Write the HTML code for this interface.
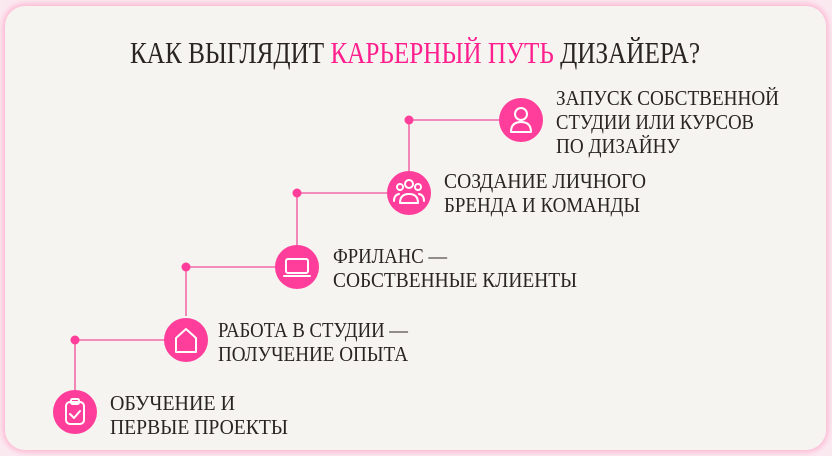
<!DOCTYPE html>
<html><head><meta charset="utf-8"><style>
html,body{margin:0;padding:0;background:#fbe9f0;}
body{width:832px;height:456px;overflow:hidden;position:relative;}
.card{position:absolute;left:5px;top:6px;width:821px;height:444px;border-radius:20px;background:#f5f4f0;box-shadow:0 0 6px 2px #ffb3d1;}
svg{position:absolute;left:0;top:0;}
text{font-family:"Liberation Serif",serif;fill:#2a2422;}
</style></head><body>
<div class="card"></div>
<svg width="832" height="456" viewBox="0 0 832 456">
<text x="130" y="63" font-size="31" textLength="570" lengthAdjust="spacingAndGlyphs">КАК ВЫГЛЯДИТ <tspan fill="#ff1f8e">КАРЬЕРНЫЙ ПУТЬ</tspan> ДИЗАЙЕРА?</text>
<g stroke="#f26aa8" stroke-width="1.6" fill="none">
<polyline points="75,390 75,340 164,340"/>
<polyline points="186,316 186,267 275,267"/>
<polyline points="297,245 297,193 387,193"/>
<polyline points="409,171 409,120 499,120"/>
</g>
<g fill="#ff3d9a">
<circle cx="75" cy="340" r="4.5"/><circle cx="186" cy="267" r="4.5"/><circle cx="297" cy="193" r="4.5"/><circle cx="409" cy="120" r="4.5"/>
<circle cx="75" cy="412" r="22"/><circle cx="186" cy="340" r="22"/><circle cx="297" cy="267" r="22"/><circle cx="409" cy="193" r="22"/><circle cx="521" cy="120" r="22"/>
</g>
<g stroke="#fff" stroke-width="2" fill="none" stroke-linecap="round" stroke-linejoin="round">
<rect x="66" y="402" width="18" height="22" rx="4"/><rect x="71" y="399" width="8" height="5" rx="1.5"/><polyline points="70,414 74,418 80,411"/>
<path d="M176,352 V338 L186,329 L196,338 V352 Z"/>
<rect x="286" y="259" width="22" height="14" rx="2"/><line x1="284" y1="276" x2="310" y2="276"/>
<circle cx="409" cy="184" r="4"/><circle cx="400" cy="187" r="3"/><circle cx="418" cy="187" r="3"/><path d="M400,203 q0,-9 9,-9 q9,0 9,9 Z"/><path d="M394,201 q0,-6 5,-7"/><path d="M424,201 q0,-6 -5,-7"/>
<circle cx="521" cy="114" r="6"/><path d="M511,132 q0,-10 10,-10 q10,0 10,10 Z"/>
</g>
<g font-size="21">
<text x="556" y="105" textLength="223" lengthAdjust="spacingAndGlyphs">ЗАПУСК СОБСТВЕННОЙ</text>
<text x="556" y="129" textLength="198" lengthAdjust="spacingAndGlyphs">СТУДИИ ИЛИ КУРСОВ</text>
<text x="556" y="153" textLength="124" lengthAdjust="spacingAndGlyphs">ПО ДИЗАЙНУ</text>
<text x="444" y="188" textLength="202" lengthAdjust="spacingAndGlyphs">СОЗДАНИЕ ЛИЧНОГО</text>
<text x="444" y="212" textLength="196" lengthAdjust="spacingAndGlyphs">БРЕНДА И КОМАНДЫ</text>
<text x="333" y="263" textLength="114" lengthAdjust="spacingAndGlyphs">ФРИЛАНС —</text>
<text x="333" y="287" textLength="244" lengthAdjust="spacingAndGlyphs">СОБСТВЕННЫЕ КЛИЕНТЫ</text>
<text x="218" y="337" textLength="190" lengthAdjust="spacingAndGlyphs">РАБОТА В СТУДИИ —</text>
<text x="218" y="361" textLength="190" lengthAdjust="spacingAndGlyphs">ПОЛУЧЕНИЕ ОПЫТА</text>
<text x="110" y="410" textLength="125" lengthAdjust="spacingAndGlyphs">ОБУЧЕНИЕ И</text>
<text x="110" y="434" textLength="178" lengthAdjust="spacingAndGlyphs">ПЕРВЫЕ ПРОЕКТЫ</text>
</g>
</svg>
</body></html>
